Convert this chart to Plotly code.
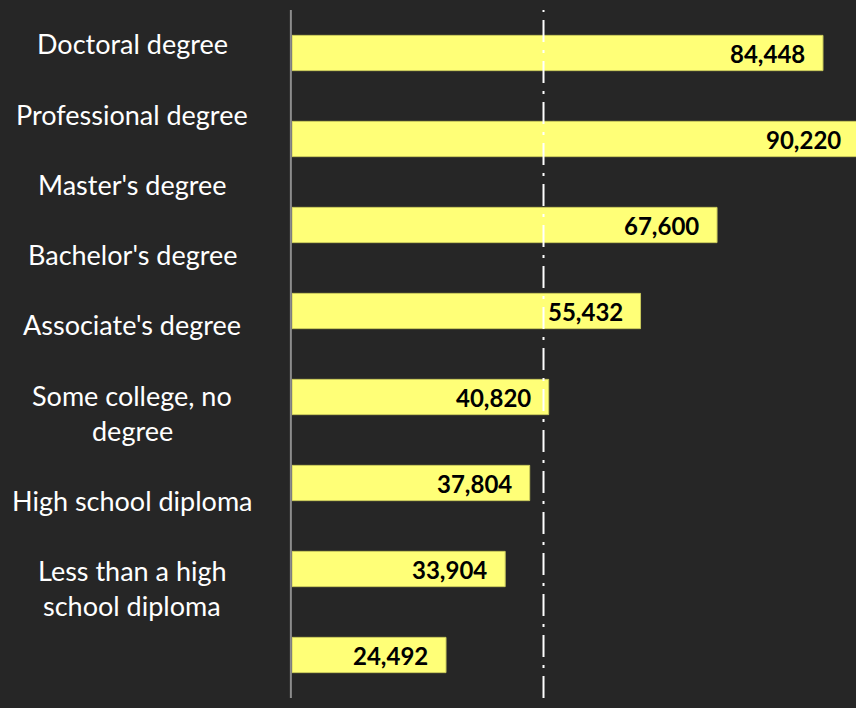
import plotly.graph_objects as go

# Median annual earnings by educational attainment
categories = [
    "Doctoral degree",
    "Professional degree",
    "Master's degree",
    "Bachelor's degree",
    "Associate's degree",
    "Some college, no degree",
    "High school diploma",
    "Less than a high school diploma",
]
earnings = [84448, 90220, 67600, 55432, 40820, 37804, 33904, 24492]
label_lines = [
    ["Doctoral degree"],
    ["Professional degree"],
    ["Master's degree"],
    ["Bachelor's degree"],
    ["Associate's degree"],
    ["Some college, no", "degree"],
    ["High school diploma"],
    ["Less than a high", "school diploma"],
]
reference_value = 40000
X_MAX = 89700

BG = "#262626"
BAR = "#FFFF77"
FONT = "Lato, 'Open Sans', sans-serif"

W, H = 856, 708
M_L, M_R, M_T, M_B = 292, 0, 10, 10
plot_h = H - M_T - M_B
plot_w = W - M_L - M_R

fig = go.Figure()
fig.add_trace(go.Bar(
    x=earnings,
    y=categories,
    orientation="h",
    width=0.41,
    marker=dict(color=BAR, line=dict(color="#c9c95c", width=1)),
    hoverinfo="skip",
))

annotations = []
# value labels at the inner end of each bar (paper x so the widest bar's label stays visible)
for cat, val in zip(categories, earnings):
    annotations.append(dict(
        x=val / X_MAX, y=cat, xref="paper", yref="y",
        text=f"<b>{val:,}</b>",
        showarrow=False, xanchor="right", yanchor="middle",
        xshift=-16,
        font=dict(family=FONT, size=24, color="#000000"),
    ))

# category labels set as a text column with blank lines between entries
line_h = 35.1
first_line_px = 44
label_cx = 132
row = 0
for lines in label_lines:
    for ln in lines:
        ypx = first_line_px + row * line_h
        annotations.append(dict(
            x=(label_cx - M_L) / plot_w, y=1 - (ypx - M_T) / plot_h,
            xref="paper", yref="paper",
            text=ln, showarrow=False,
            xanchor="center", yanchor="middle",
            font=dict(family=FONT, size=27, color="#ffffff"),
        ))
        row += 1
    row += 1

fig.update_layout(
    width=W, height=H,
    margin=dict(l=M_L, r=M_R, t=M_T, b=M_B),
    paper_bgcolor=BG, plot_bgcolor=BG,
    showlegend=False,
    bargap=0.59,
    xaxis=dict(range=[0, X_MAX], visible=False, fixedrange=True),
    yaxis=dict(
        categoryorder="array", categoryarray=categories,
        autorange="reversed",
        showticklabels=False, ticks="",
        showgrid=False, zeroline=False,
        showline=False,
    ),
    shapes=[
        dict(type="line", xref="paper", yref="paper",
             x0=-0.002, x1=-0.002, y0=0, y1=1,
             line=dict(color="#8c8c8c", width=2), layer="above"),
        dict(type="line", xref="x", yref="paper",
             x0=reference_value, x1=reference_value, y0=0, y1=1,
             line=dict(color="#ffffff", width=2, dash="22px,8px,3px,8px"),
             layer="above"),
    ],
    annotations=annotations,
)

fig.write_html("out.html")
